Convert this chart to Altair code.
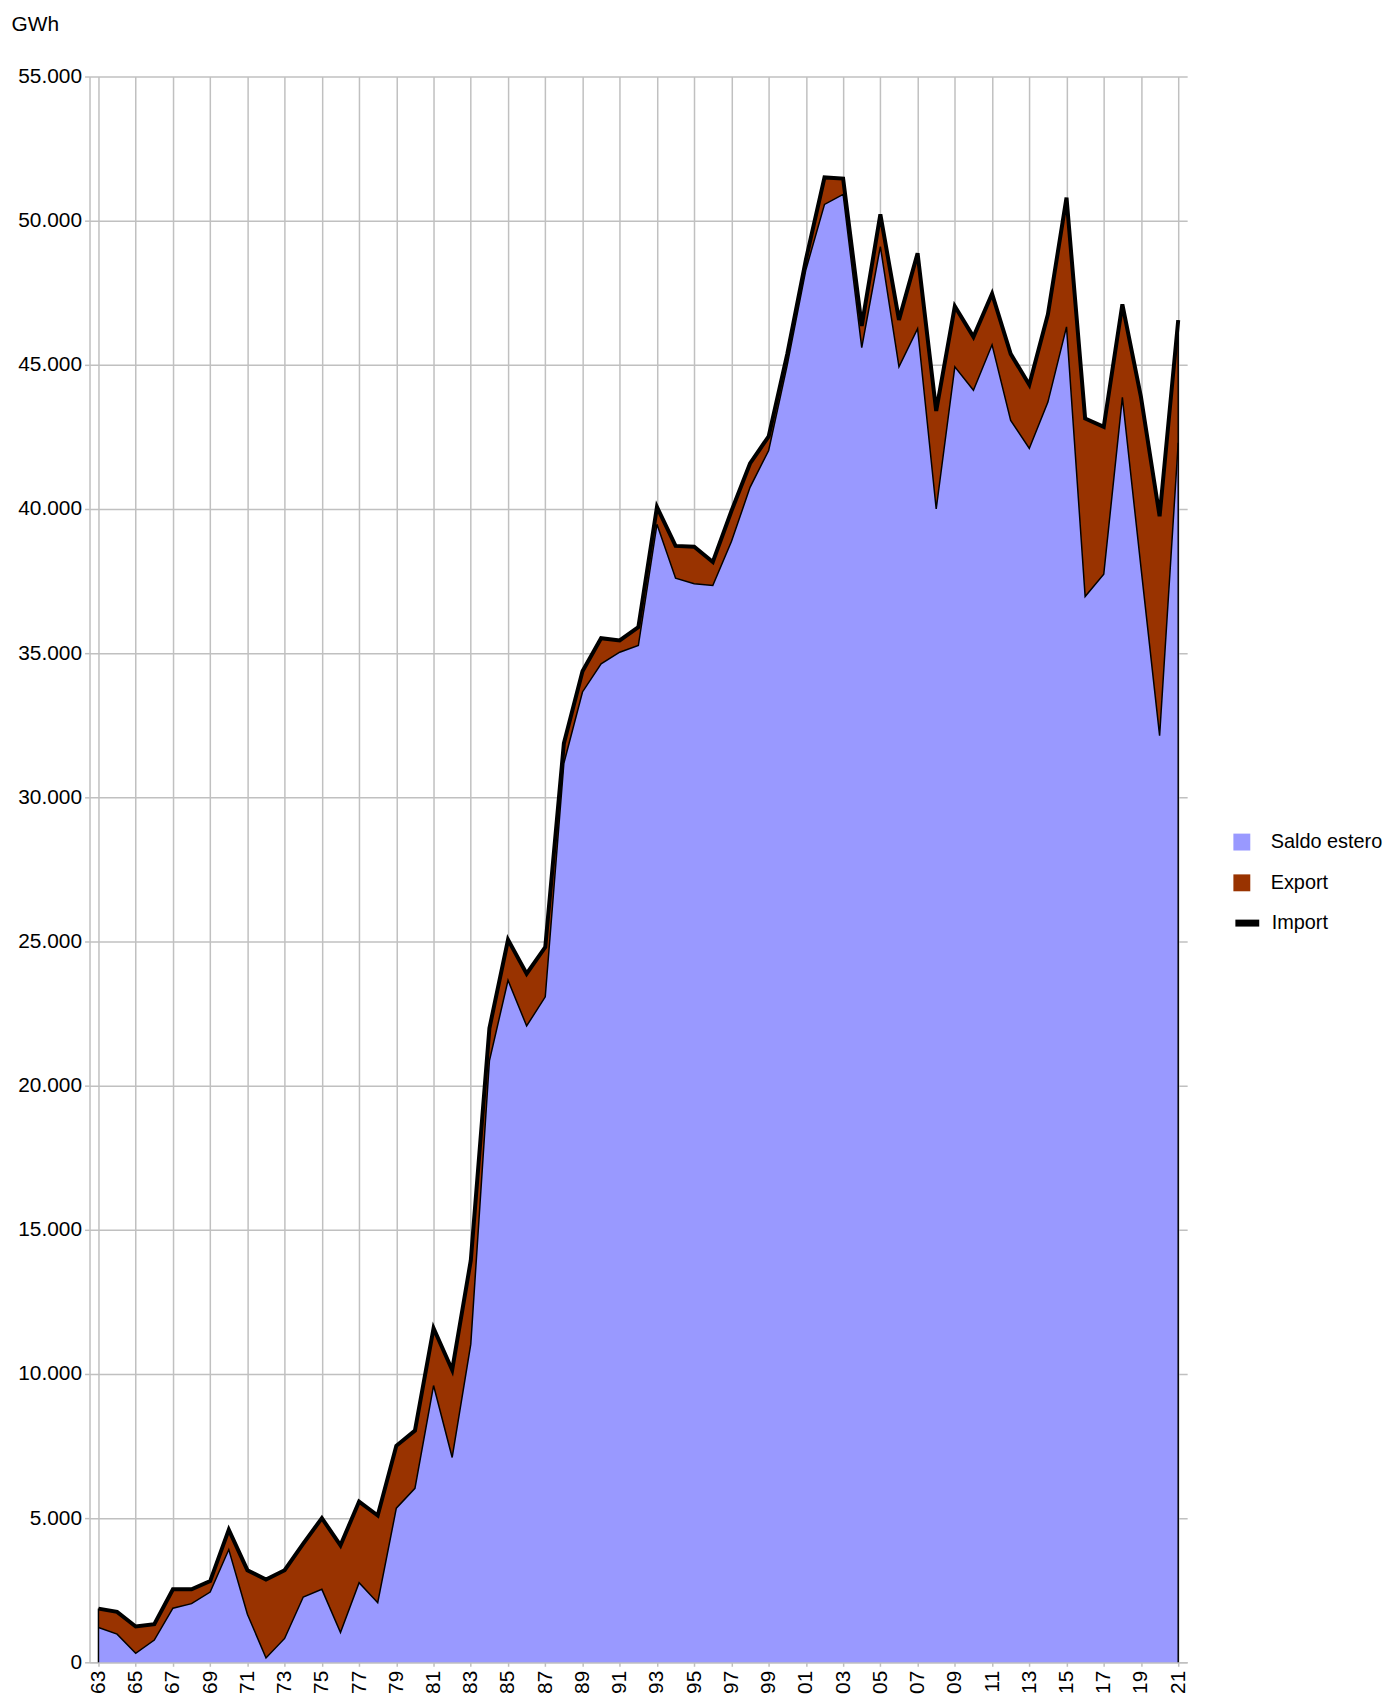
import altair as alt
import pandas as pd

years = list(range(1963, 2022))

import_gwh = [
    1862, 1748, 1241, 1324, 2531, 2531, 2817, 4600, 3196, 2875,
    3196, 4117, 5000, 4058, 5575, 5092, 7510, 8035, 11590, 10140,
    13940, 21990, 25060, 23885, 24805, 31870, 34370, 35520, 35440, 35900,
    40070, 38720, 38690, 38160, 39930, 41580, 42520, 45380, 48650, 51500,
    51460, 46350, 50220, 46560, 48870, 43400, 47030, 45970, 47470, 45380,
    44310, 46750, 50800, 43140, 42850, 47100, 43880, 39750, 46550,
]

saldo_gwh = [
    1207, 977, 310, 772, 1875, 2035, 2438, 3910, 1668, 150,
    828, 2265, 2531, 1035, 2759, 2069, 5345, 6035, 9600, 7105,
    11035, 20860, 23656, 22069, 23080, 31183, 33655, 34632, 35034, 35264,
    39470, 37600, 37410, 37345, 38870, 40750, 42030, 45000, 48300, 50565,
    50910, 45600, 49104, 44931, 46255, 40000, 44930, 44120, 45695, 43075,
    42100, 43708, 46316, 36966, 37735, 43870, 37966, 32138, 42300,
]

area_series = ["Saldo estero", "Export"]
area_colors = ["#9999ff", "#993300"]
line_series = ["Import"]
line_colors = ["#000000"]

x_ticks = list(range(1963, 2022, 2))
y_ticks = list(range(0, 55001, 5000))

FONT = "Liberation Sans"
GRID = "#c0c0c0"

df = pd.DataFrame({"year": years, "imp": import_gwh, "saldo": saldo_gwh})
df["export"] = df["imp"] - df["saldo"]
df["zero"] = 0

area_df = pd.concat([
    pd.DataFrame({"year": years, "series": area_series[0], "lo": 0, "hi": saldo_gwh}),
    pd.DataFrame({"year": years, "series": area_series[1], "lo": saldo_gwh, "hi": import_gwh}),
], ignore_index=True)

line_df = pd.DataFrame({"year": years, "series": line_series[0], "value": import_gwh})
ends_df = df[df["year"].isin([years[0], years[-1]])]

x_scale = alt.Scale(domain=[1962.52, 2021.48], nice=False, zero=False)
y_scale = alt.Scale(domain=[0, 55000], nice=False)

x_axis = alt.Axis(
    values=x_ticks, tickCount=100, format="d", labelExpr="slice(datum.label, 2)",
    labelAngle=270, title=None, tickSize=4, labelPadding=4,
    labelOverlap=False, labelFlush=False,
    grid=True, gridColor=GRID, gridWidth=1.5,
    domainColor=GRID, domainWidth=1.5, tickColor=GRID, tickWidth=1.5,
    labelFont=FONT, labelFontSize=21, labelColor="#000000",
)
y_axis = alt.Axis(
    values=y_ticks, tickCount=100,
    labelExpr="replace(format(datum.value, ','), ',', '.')",
    title="GWh", titleAngle=0, titleX=-79, titleY=-52,
    titleAlign="left", titleBaseline="middle",
    titleFont=FONT, titleFontSize=21, titleFontWeight="normal", titleColor="#000000",
    tickSize=5, labelPadding=3, labelOverlap=False, labelFlush=False,
    grid=True, gridColor=GRID, gridWidth=1.5,
    domainColor=GRID, domainWidth=1.5, tickColor=GRID, tickWidth=1.5,
    labelFont=FONT, labelFontSize=21, labelColor="#000000",
)

areas = alt.Chart(area_df).mark_area(opacity=1, interpolate="linear").encode(
    x=alt.X("year:Q", scale=x_scale, axis=x_axis),
    y=alt.Y("hi:Q", scale=y_scale, axis=y_axis, stack=None),
    y2="lo:Q",
    fill=alt.Fill(
        "series:N",
        scale=alt.Scale(domain=area_series, range=area_colors),
        legend=alt.Legend(
            title=None, orient="none", legendX=1149, legendY=760,
            symbolType="square", symbolSize=289, symbolStrokeWidth=0,
            labelFont=FONT, labelFontSize=20, labelColor="#000000",
            rowPadding=21, labelOffset=19, padding=0,
        ),
    ),
)

saldo_line = alt.Chart(df).mark_line(color="#000000", strokeWidth=1.5).encode(
    x=alt.X("year:Q", scale=x_scale),
    y=alt.Y("saldo:Q", scale=y_scale),
)

end_rules = alt.Chart(ends_df).mark_rule(color="#000000", strokeWidth=1.5).encode(
    x=alt.X("year:Q", scale=x_scale),
    y=alt.Y("imp:Q", scale=y_scale),
    y2="zero:Q",
)

import_line = alt.Chart(line_df).mark_line(strokeWidth=4, strokeJoin="miter").encode(
    x=alt.X("year:Q", scale=x_scale),
    y=alt.Y("value:Q", scale=y_scale),
    stroke=alt.Stroke(
        "series:N",
        scale=alt.Scale(domain=line_series, range=line_colors),
        legend=alt.Legend(
            title=None, orient="none", legendX=1149, legendY=836,
            symbolType="stroke", symbolSize=576, symbolStrokeWidth=7,
            labelFont=FONT, labelFontSize=20, labelColor="#000000",
            labelOffset=9, padding=0,
        ),
    ),
)

chart = alt.layer(areas, saldo_line, end_rules, import_line).properties(
    width=1104,
    height=1595,
    autosize=alt.AutoSizeParams(type="none"),
    padding={"left": 82, "top": 64, "right": 200, "bottom": 33},
    background="#ffffff",
).configure_view(stroke=None)

chart.save("out.html", embed_options={"renderer": "svg", "actions": False})
